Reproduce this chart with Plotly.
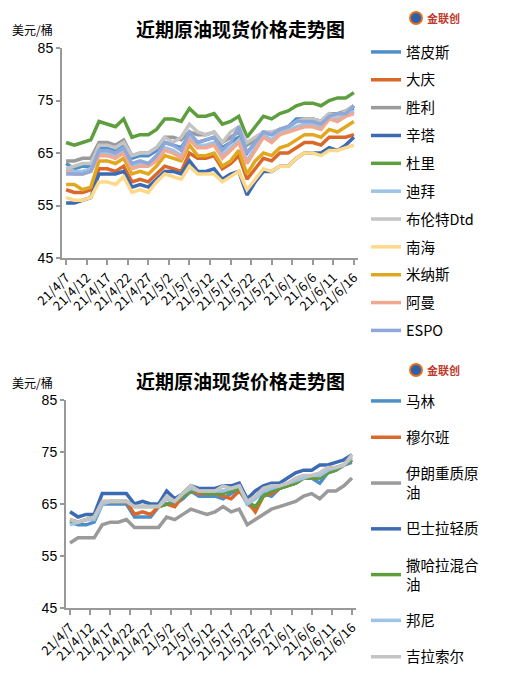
import plotly.graph_objects as go
import pandas as pd

dates = pd.date_range("2021-04-07", "2021-06-16", freq="2D")

top_names = ["塔皮斯", "大庆", "胜利", "辛塔", "杜里", "迪拜", "布伦特Dtd", "南海", "米纳斯", "阿曼", "ESPO"]
top_colors = ["#4E8FC7", "#D9682A", "#9A9A9A", "#3D6BB3", "#5E9E3E", "#9DC3E6", "#C4C4C4", "#FFD98A", "#E0A820", "#F0A890", "#8FA8DA"]
tapis = [63,62,62.5,62.5,66,66,65.5,66.5,64,64.5,64.5,65.5,67,66.5,66,68.5,67,67.5,68,66,67,68,65,67,69,68.5,69.5,70,71.5,71.5,71.5,71,72.5,72,73,73.5]
daqing = [58,57.5,57.5,58,62,62,61.5,62.5,59.5,60,59.5,61,62.5,62,61.5,65,64,64,64.5,62,63,64.5,60,62,64,63.5,65,65,66,67,67,66.5,68,68,68,68.5]
shengli = [63.5,63.5,64,64,67,67,66.5,67.5,64.5,65,65,66,68,68,67.5,69,68.5,68.5,69,67,68,69,66.5,67.5,69,68.5,69.5,70,71,71.5,71.5,71,72.5,72.5,73,74]
cinta = [55.5,55.5,56,56.5,61,61,61,61.5,58.5,59,58.5,60,61.5,61.5,61,63.5,61.5,61.5,62,60,61,61.5,57,59.5,61.5,61.5,62.5,62.5,64,65,65,65,66,65.5,66.5,68]
duri = [67,66.5,67,67.5,71,70.5,70,71.5,68,68.5,68.5,69.5,71.5,71.5,71,73.5,72,72,72.5,70.5,71,72,68,70,72,71.5,72.5,73,74,74.5,74.5,74,75,75.5,75.5,76.5]
dubai = [62,61.5,61.5,62,65,65,64.5,65.5,62.5,63,63,64,66,65.5,64.5,68,66.5,66.5,67,64.5,66,67.5,63.5,66,68.5,67.5,69,69.5,70,70.5,70.5,70,71.5,71.5,72,73]
brent = [62,62.5,63,63,66.5,66.5,66,67,64.5,65,65,66,68,67,68,70.5,69,68.5,69,67,69,70,67,68,69,69,69.5,70,71,71.5,71.5,71,72.5,72,73,74]
nanhai = [56.5,56,56,56.5,59.5,59.5,59,60.5,57.5,58,57.5,59.5,61,60.5,60,62.5,61,61,61,59.5,60.5,61.5,58,60,62,61.5,62.5,62.5,64,65,65,64.5,65.5,65.5,66,66.5]
minas = [59,59,58,58.5,63.5,63.5,63,64,61,61.5,61,62.5,64.5,64,63.5,66.5,64.5,64.5,65,62.5,63.5,65.5,61,63.5,65,64.5,66,66.5,67.5,68.5,68.5,68,69.5,69,70,71]
oman = [61.5,61,61,61.5,64.5,64.5,64,65,62,62.5,62.5,63.5,65.5,65,64,67.5,66,66,66.5,64,65.5,67,63,65.5,68,67,68.5,69,69.5,70,70,69.5,71.5,71,72,72.5]
espo = [61,61,61,61.5,65.5,65.5,65,66,63,63.5,63,64.5,67,66.5,65.5,69,67,67.5,68,65.5,67,70,65,67,69,68.5,69.5,70,71,71,71,70.5,72,72.5,72.5,74]
top_values = [tapis, daqing, shengli, cinta, duri, dubai, brent, nanhai, minas, oman, espo]

bot_names = ["马林", "穆尔班", "伊朗重质原<br>油", "巴士拉轻质", "撒哈拉混合<br>油", "邦尼", "吉拉索尔"]
bot_colors = ["#4E8FC7", "#D9682A", "#9A9A9A", "#3D6BB3", "#5E9E3E", "#9DC3E6", "#C4C4C4"]
marine = [61.5,61,61,61.5,65,65,65,65,62.5,62.5,62.5,64.5,65,65,66,67.5,66.5,66.5,66.5,66,67,68,65,64,67,66.5,68,68.5,69,70,70,69,71,71.5,72.5,73]
murban = [62,61.5,62,62.5,65.5,65.5,65.5,65.5,63,63.5,63,64.5,65,64.5,66.5,67.5,67,67,67,66.5,66,67.5,65.5,63.5,66.5,67,68,68.5,69,70,70,70,71.5,72,72.5,73.5]
iran = [57.5,58.5,58.5,58.5,61,61.5,61.5,62,60.5,60.5,60.5,60.5,62.5,62,63,64,63.5,63,63.5,64.5,63.5,64,61,62,63,64,64.5,65,65.5,66.5,67,66,67.5,67.5,68.5,70]
basrah = [63.5,62.5,63,63,67,67,67,67,65,65.5,65,65,67.5,66,67,68.5,68,68,68,68.5,68.5,69,66,67.5,68.5,69,69,70,71,71.5,71.5,72.5,72.5,73,73.5,74.5]
sahara = [61.5,61.5,62,62.5,65,65.5,65.5,65.5,64.5,64.5,64.5,64.5,65,65.5,66.5,67.5,67.5,67,67,67,67.5,68,65.5,64.5,66.5,67.5,68,68.5,69,70,70,70,71,71.5,72.5,73.5]
bonny = [61,61.5,62,62,65,65.5,65.5,65.5,64.5,64.5,64.5,64.5,66,65.5,67,68,67.5,67.5,67.5,67.5,68,68.5,65,66,67.5,68,68.5,69,69.5,70,70.5,70.5,71.5,72,72.5,74]
girassol = [62,61.5,62,62.5,65.5,65.5,65.5,65.5,64.5,64.5,64.5,64.5,66.5,65.5,67,68.5,67.5,67.5,67.5,68.5,68,68.5,65.5,66.5,68,68.5,68.5,69,70,70.5,70.5,71,72,72,72.5,74.5]
bot_values = [marine, murban, iran, basrah, sahara, bonny, girassol]

W, H, OFF = 498, 664, 8
def px(x): return (x - OFF) / W
def py(y): return 1 - (y - OFF) / H

FONT = "Noto Sans CJK SC"
fig = go.Figure()
for i, (n, c, v) in enumerate(zip(top_names, top_colors, top_values)):
    fig.add_trace(go.Scatter(x=dates, y=v, name=n, mode="lines", line=dict(color=c, width=3.5),
                             xaxis="x", yaxis="y", legend="legend", legendgroup="t%d" % i))
for i, (n, c, v) in enumerate(zip(bot_names, bot_colors, bot_values)):
    fig.add_trace(go.Scatter(x=dates, y=v, name=n, mode="lines", line=dict(color=c, width=3.5),
                             xaxis="x2", yaxis="y2", legend="legend2", legendgroup="b%d" % i))

xcommon = dict(type="date", tick0="2021-04-07", dtick=5 * 86400000, tickformat="%y/%-m/%-d",
               tickangle=-45, range=["2021-04-06", "2021-06-17"], showgrid=False, automargin=False,
               showline=True, linecolor="#999", linewidth=2, ticks="outside", tickcolor="#999",
               ticklen=5, tickwidth=2, tickfont=dict(family=FONT, size=13, color="#000"))
ycommon = dict(range=[45, 85], tickvals=[45, 55, 65, 75, 85], showgrid=False, zeroline=False, automargin=False,
               showline=True, linecolor="#999", linewidth=2, ticks="outside", tickcolor="#999",
               ticklen=4, tickwidth=2, tickfont=dict(family="Liberation Sans", size=14, color="#000"))

fig.update_layout(
    width=W, height=H, margin=dict(l=0, r=0, t=0, b=0, autoexpand=False),
    plot_bgcolor="white", paper_bgcolor="white",
    xaxis=dict(domain=[px(62), px(358)], anchor="y", **xcommon),
    yaxis=dict(domain=[py(258), py(48)], anchor="x", **ycommon),
    xaxis2=dict(domain=[px(66), px(356)], anchor="y2", **xcommon),
    yaxis2=dict(domain=[py(608), py(400)], anchor="x2", **ycommon),
    legend=dict(x=px(366), y=py(36), xanchor="left", yanchor="top", tracegroupgap=6,
                font=dict(family=FONT, size=14.5, color="#000"), bgcolor="rgba(0,0,0,0)"),
    legend2=dict(x=px(366), y=py(385), xanchor="left", yanchor="top", tracegroupgap=14.5,
                 font=dict(family=FONT, size=14.5, color="#000"), bgcolor="rgba(0,0,0,0)"),
    showlegend=True,
)
for ty, uy in [(28, 30), (380, 382)]:
    fig.add_annotation(text="<b>近期原油现货价格走势图</b>", x=px(240), y=py(ty), xref="paper", yref="paper",
                       yanchor="middle", showarrow=False, font=dict(family=FONT, size=19, color="#000"))
    fig.add_annotation(text="美元/桶", x=px(10), y=py(uy), xref="paper", yref="paper", xanchor="left",
                       yanchor="middle", showarrow=False, font=dict(family=FONT, size=12, color="#000"))
    fig.add_annotation(text="<b>金联创</b>", x=px(425), y=py(ty - 10), xref="paper", yref="paper",
                       xanchor="left", yanchor="middle", showarrow=False, font=dict(family=FONT, size=11, color="#C0392B"))
    fig.add_shape(type="circle", xref="paper", yref="paper", x0=px(410), x1=px(422),
                  y0=py(ty - 4), y1=py(ty - 16), fillcolor="#2E5FA8", line=dict(color="#E07020", width=2))

fig.write_html("out.html")
